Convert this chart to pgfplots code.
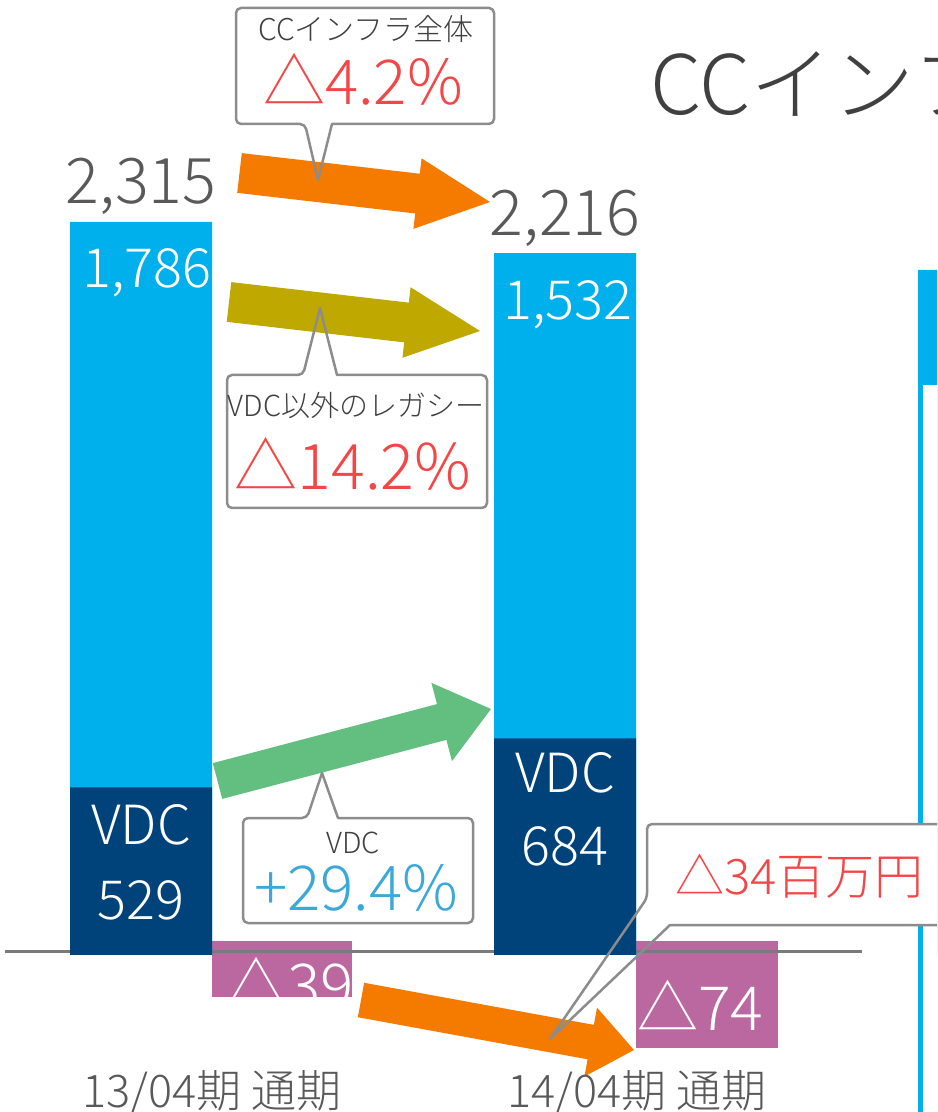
\documentclass[border=0pt]{standalone}
\usepackage{pgfplots}
\pgfplotsset{compat=1.18}
\usepackage{fontspec}
\setmainfont{Noto Sans CJK JP Light}
\definecolor{lblue}{HTML}{00B0EC}
\definecolor{dblue}{HTML}{00427A}
\definecolor{magen}{HTML}{BC68A0}
\definecolor{orng}{HTML}{F47A00}
\definecolor{olive}{HTML}{BFA800}
\definecolor{grn}{HTML}{62BF80}
\definecolor{redt}{HTML}{F44646}
\definecolor{bluet}{HTML}{3AA8D8}
\definecolor{txtg}{HTML}{595959}
\definecolor{titg}{HTML}{404040}
\definecolor{boxg}{HTML}{8C8C8C}
\definecolor{baseg}{HTML}{7A7A7A}
\newcommand{\fs}[1]{\fontsize{#1}{#1}\selectfont}
% block arrow: color, x0,y0 (tail centre), x1,y1 (tip), shaft width, head width, head length
\newcommand{\bigarrow}[8]{%
  \pgfmathsetmacro{\dxa}{#4-#2}\pgfmathsetmacro{\dya}{#5-#3}%
  \pgfmathsetmacro{\La}{veclen(\dxa,\dya)}%
  \pgfmathsetmacro{\ux}{\dxa/\La}\pgfmathsetmacro{\uy}{\dya/\La}%
  \pgfmathsetmacro{\Ba}{\La-#8}%
  \pgfmathsetmacro{\wa}{#6/2}\pgfmathsetmacro{\Ha}{#7/2}%
  \coordinate (q1) at ({#2-\wa*\uy},{#3+\wa*\ux});
  \coordinate (q2) at ({#2+\Ba*\ux-\wa*\uy},{#3+\Ba*\uy+\wa*\ux});
  \coordinate (q3) at ({#2+\Ba*\ux-\Ha*\uy},{#3+\Ba*\uy+\Ha*\ux});
  \coordinate (q4) at (#4,#5);
  \coordinate (q5) at ({#2+\Ba*\ux+\Ha*\uy},{#3+\Ba*\uy-\Ha*\ux});
  \coordinate (q6) at ({#2+\Ba*\ux+\wa*\uy},{#3+\Ba*\uy-\wa*\ux});
  \coordinate (q7) at ({#2+\wa*\uy},{#3-\wa*\ux});
  \fill[#1] (q1)--(q2)--(q3)--(q4)--(q5)--(q6)--(q7)--cycle;
}
\begin{document}
\begin{tikzpicture}
\begin{axis}[width=937pt,height=1112pt,scale only axis,hide axis,
  xmin=-0.33255,xmax=1.87736,ymin=-495.74,ymax=3015.47,clip=true]
% negative deltas (annotation boxes)
\fill[magen] (axis cs:0.1675,44.2) rectangle (axis cs:0.4976,-132.6);
\fill[magen] (axis cs:1.1675,44.2) rectangle (axis cs:1.5024,-293.7);
\draw[baseg, line width=3pt] (axis cs:-0.3208,9.47) -- (axis cs:1.7005,9.47);
% totals (VDC + legacy)
\addplot[ybar, bar width=0.33491, bar shift=0, fill=lblue, draw=none]
  coordinates {(0,2315) (1,2216) (2,2163)};
% VDC
\addplot[ybar, bar width=0.33491, bar shift=0, fill=dblue, draw=none]
  coordinates {(0,529) (1,684)};
% third (cropped) bar, hollow part
\addplot[ybar, bar width=0.33491, bar shift=0, fill=white, draw=none]
  coordinates {(2,1800)};
\addplot[lblue, line width=5pt, no markers] coordinates {(1.8384,-495.74) (1.8384,1800)};
\end{axis}
\begin{scope}[shift={(current axis.north west)}, x=1pt, y=-1pt]
\clip (0,0) rectangle (937,1112);
% title (cropped)
\node[anchor=base west, inner sep=0, text=titg] at (650,115) {\fs{82}CCインフラ売上高};
% white body of callout 4
\fill[white] (647,824) rectangle (1000,925);
% arrows
\bigarrow{orng}{239.5}{173}{490}{202}{40}{71}{73}
\bigarrow{olive}{229}{302}{480}{331}{40}{71}{74}
\bigarrow{grn}{217.5}{781}{491}{709}{37}{81}{51}
\bigarrow{orng}{361}{1000}{634}{1050}{35}{70}{44}
% callouts
\begin{scope}[boxg, line width=2.5pt, line join=round]
\draw (332,124) [rounded corners=5pt] -- (494,124) -- (494,8) -- (236,8) -- (236,124) -- (305,124) [sharp corners] -- (318,180) -- cycle;
\draw (337,375) [rounded corners=5pt] -- (487,375) -- (487,508) -- (227,508) -- (227,375) -- (303,375) [sharp corners] -- (320,308) -- cycle;
\draw (338,818) [rounded corners=5pt] -- (473,818) -- (473,923) -- (243,923) -- (243,818) -- (307,818) [sharp corners] -- (322,773) -- cycle;
\draw (670,925) [rounded corners=5pt] -- (1000,925) -- (1000,824) -- (647,824) -- (647,898) [sharp corners] -- (550,1039) -- cycle;
\end{scope}
\node[anchor=base, inner sep=0, text=titg] at (366,41) {\fs{30}CCインフラ全体};
\node[anchor=base, inner sep=0, text=redt] at (363,105) {\fs{62}△4.2\%};
\node[anchor=base, inner sep=0, text=titg] at (356,417) {\fs{29}VDC以外のレガシー};
\node[anchor=base, inner sep=0, text=redt] at (353,490) {\fs{63}△14.2\%};
\node[anchor=base, inner sep=0, text=titg] at (353,853) {\fs{29}VDC};
\node[anchor=base, inner sep=0, text=bluet] at (356,910) {\fs{62}+29.4\%};
\node[anchor=base west, inner sep=0, text=redt] at (675,894) {\fs{49}△34百万円};
% bar labels
\node[anchor=base, inner sep=0, text=txtg] at (141,204) {\fs{63}2,315};
\node[anchor=base, inner sep=0, text=txtg] at (565,236) {\fs{63}2,216};
\node[anchor=base, inner sep=0, text=white] at (147,288) {\fs{54}1,786};
\node[anchor=base, inner sep=0, text=white] at (568,320) {\fs{54}1,532};
\node[anchor=base, inner sep=0, text=white] at (141,844) {\fs{54}VDC};
\node[anchor=base, inner sep=0, text=white] at (141,919) {\fs{54}529};
\node[anchor=base, inner sep=0, text=white] at (565,792) {\fs{54}VDC};
\node[anchor=base, inner sep=0, text=white] at (565,865) {\fs{54}684};
% texts in the magenta boxes
\begin{scope}
\clip (212,941) rectangle (352,997);
\node[anchor=base west, inner sep=0, text=white] at (225,1008) {\fs{62}△39};
\end{scope}
\node[anchor=base west, inner sep=0, text=white] at (637,1030) {\fs{61}△74};
% category labels
\node[anchor=base, inner sep=0, text=txtg] at (212,1107) {\fs{45}13/04期 通期};
\node[anchor=base, inner sep=0, text=txtg] at (637,1107) {\fs{45}14/04期 通期};
\end{scope}
\pgfresetboundingbox
\useasboundingbox (current axis.south west) rectangle (current axis.north east);
\end{tikzpicture}
\end{document}
